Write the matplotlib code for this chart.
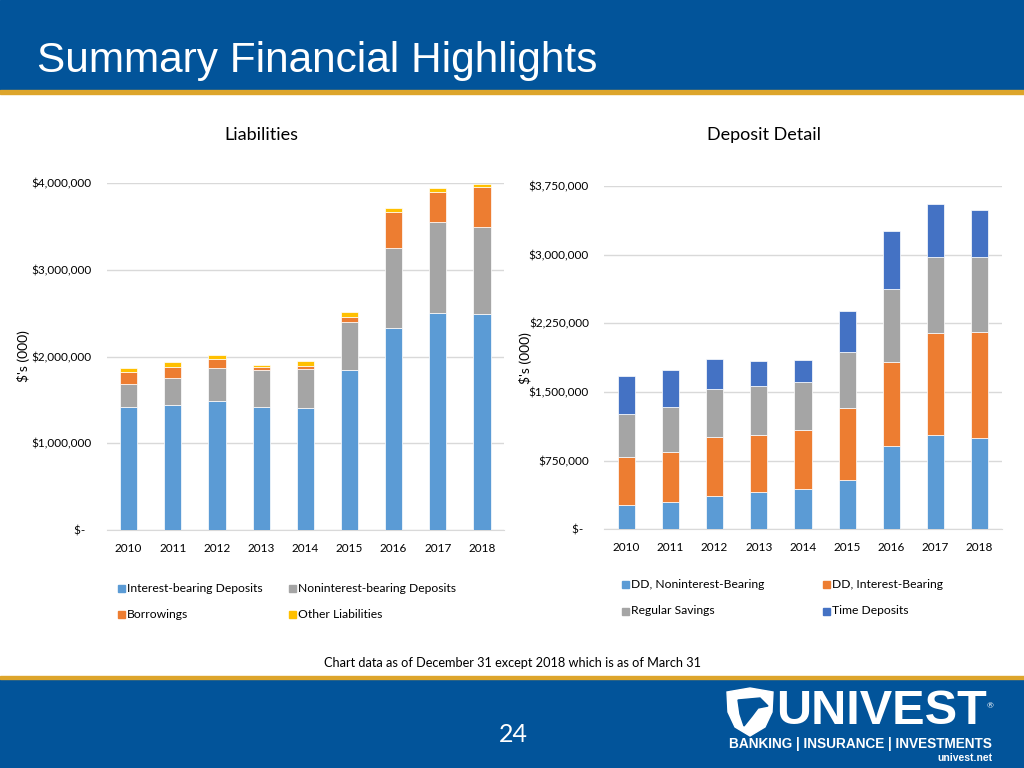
import matplotlib.pyplot as plt
from matplotlib.patches import Rectangle, Polygon
from matplotlib.ticker import FuncFormatter

years = ["2010", "2011", "2012", "2013", "2014", "2015", "2016", "2017", "2018"]

# Liabilities, $ thousands
liab_names = ["Interest-bearing Deposits", "Noninterest-bearing Deposits", "Borrowings", "Other Liabilities"]
interest_bearing = [1414000, 1441000, 1491000, 1422000, 1410000, 1848000, 2332000, 2505000, 2490000]
noninterest_bearing = [269000, 308000, 373000, 422000, 446000, 546000, 919000, 1045000, 999000]
borrowings = [142000, 134000, 111000, 31000, 34000, 65000, 418000, 350000, 465000]
other_liab = [39000, 50000, 42000, 31000, 54000, 54000, 46000, 42000, 38000]

# Deposit detail, $ thousands
dep_names = ["DD, Noninterest-Bearing", "DD, Interest-Bearing", "Regular Savings", "Time Deposits"]
dd_nonint = [262000, 298000, 364000, 404000, 444000, 536000, 914000, 1034000, 995000]
dd_int = [532000, 547000, 642000, 627000, 642000, 790000, 912000, 1109000, 1162000]
savings = [470000, 492000, 524000, 539000, 521000, 612000, 804000, 834000, 820000]
time_dep = [415000, 404000, 328000, 267000, 247000, 452000, 624000, 572000, 514000]

liab_ticks = [0, 1000000, 2000000, 3000000, 4000000]
dep_ticks = [0, 750000, 1500000, 2250000, 3000000, 3750000]

BLUE = "#5B9BD5"
ORANGE = "#ED7D31"
GRAY = "#A5A5A5"
GOLD = "#FFC000"
DARK = "#4472C4"
HEADER = "#02549A"
STRIPE = "#DDA52B"

plt.rcParams['font.family'] = ['Lato', 'DejaVu Sans']

W, H = 1024, 768
fig = plt.figure(figsize=(10.24, 7.68), dpi=100)


def px(x, y):
    return x / W, 1 - y / H


def money(v, pos):
    if v == 0:
        return "$-  "
    return "${:,.0f}".format(v)


def stacked(ax, series, colors, top, ticks):
    bottom = [0] * len(years)
    xs = range(len(years))
    for vals, c in zip(series, colors):
        ax.bar(xs, vals, 0.39, bottom=bottom, color=c, edgecolor="white", linewidth=0.5, zorder=3)
        bottom = [b + v for b, v in zip(bottom, vals)]
    ax.set_xlim(-0.5, len(years) - 0.5)
    ax.set_ylim(0, top)
    ax.set_yticks(ticks)
    ax.yaxis.set_major_formatter(FuncFormatter(money))
    ax.set_xticks(list(xs))
    ax.set_xticklabels(years)
    ax.grid(axis="y", color="#D9D9D9", linewidth=1, zorder=0)
    for s in ["top", "right", "left"]:
        ax.spines[s].set_visible(False)
    ax.spines["bottom"].set_color("#D9D9D9")
    ax.tick_params(axis="both", length=0, labelsize=8.5, colors="#000000")
    ax.tick_params(axis="y", pad=11)
    ax.tick_params(axis="x", pad=9)


# header and footer bands
fig.add_artist(Rectangle(px(0, 90), 1, 90 / H, color=HEADER, transform=fig.transFigure, zorder=0))
fig.add_artist(Rectangle(px(0, 94), 1, 4 / H, color=STRIPE, transform=fig.transFigure, zorder=0))
fig.add_artist(Rectangle(px(0, 768), 1, 89 / H, color=HEADER, transform=fig.transFigure, zorder=0))
fig.add_artist(Rectangle(px(0, 679), 1, 3 / H, color=STRIPE, transform=fig.transFigure, zorder=0))
fig.text(*px(37, 72), "Summary Financial Highlights", color="white", fontsize=30.5,
         family="Liberation Sans", va="baseline")

# left chart
ax1 = fig.add_axes([106.6 / W, 1 - 530 / H, 397.5 / W, 347 / H])
stacked(ax1, [interest_bearing, noninterest_bearing, borrowings, other_liab],
        [BLUE, GRAY, ORANGE, GOLD], 4000000, liab_ticks)
ax1.set_ylabel("$'s (000)", fontsize=10)
ax1.yaxis.set_label_coords(-76.6 / 397.5, 0.5)

# right chart
ax2 = fig.add_axes([604.2 / W, 1 - 529.3 / H, 397.5 / W, 343.3 / H])
stacked(ax2, [dd_nonint, dd_int, savings, time_dep],
        [BLUE, ORANGE, GRAY, DARK], 3750000, dep_ticks)
ax2.set_ylabel("$'s (000)", fontsize=10)
ax2.yaxis.set_label_coords(-72.2 / 397.5, 0.5)

fig.text(*px(261, 135), "Liabilities", fontsize=13, ha="center", va="center")
fig.text(*px(764, 135), "Deposit Detail", fontsize=13, ha="center", va="center")


def legend_rows(names, colors, xs, ys):
    for i, (n, c) in enumerate(zip(names, colors)):
        x, y = xs[i % 2], ys[i // 2]
        fig.add_artist(Rectangle(px(x - 3.5, y + 3.5), 7 / W, 7 / H, color=c, transform=fig.transFigure))
        fig.text(*px(x + 6, y), n, fontsize=8.7, va="center", ha="left")


legend_rows(liab_names, [BLUE, GRAY, ORANGE, GOLD], [121, 292], [588, 614])
legend_rows(dep_names, [BLUE, ORANGE, GRAY, DARK], [625, 826], [584, 611])

fig.text(*px(512, 663), "Chart data as of December 31 except 2018 which is as of March 31",
         fontsize=9.2, ha="center", va="center")

# footer content
fig.text(*px(513, 735), "24", color="white", fontsize=18, ha="center", va="center")
shield = [(727, 692), (750, 688), (773, 692), (772, 712), (765, 727), (750, 736), (735, 727), (728, 712)]
fig.add_artist(Polygon([px(a, b) for a, b in shield], closed=True, color="white", transform=fig.transFigure))
eagle = [(738, 700), (760, 698), (768, 706), (758, 708), (752, 716), (744, 726), (740, 714)]
fig.add_artist(Polygon([px(a, b) for a, b in eagle], closed=True, color=HEADER, transform=fig.transFigure))
fig.text(*px(776, 711), "UNIVEST", color="white", fontsize=35, fontweight="heavy",
         family="Liberation Sans", va="center", ha="left")
fig.text(*px(990, 706), "®", color="white", fontsize=6, ha="center", va="center")
fig.text(*px(992, 744), "BANKING | INSURANCE | INVESTMENTS", color="white", fontsize=9.8,
         fontweight="bold", family="Liberation Sans", va="center", ha="right")
fig.text(*px(992, 758), "univest.net", color="white", fontsize=7.5, fontweight="bold",
         family="Liberation Sans", va="center", ha="right")

fig.savefig("out.png", dpi=100)
